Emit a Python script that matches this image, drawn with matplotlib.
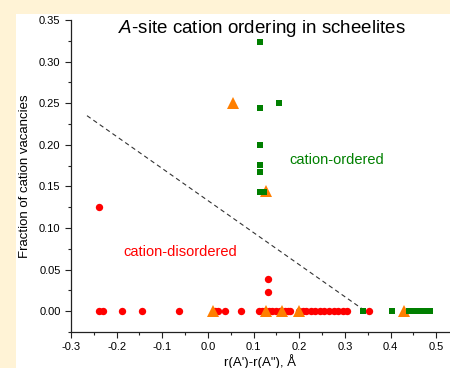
'''
A-site cation ordering in scheelites
'''

import matplotlib
matplotlib.use('Agg')
import matplotlib.pyplot as plt
from matplotlib.patches import Rectangle
from matplotlib.ticker import MultipleLocator, FormatStrFormatter

plt.rcParams['font.family'] = ['Liberation Sans', 'DejaVu Sans']
plt.rcParams['mathtext.fontset'] = 'custom'
plt.rcParams['mathtext.rm'] = 'Liberation Sans'
plt.rcParams['mathtext.it'] = 'Liberation Sans:italic'

# cation-disordered compounds (red circles)
disordered_x = [-0.238, -0.231, -0.188, -0.144, -0.064, 0.015, 0.022, 0.038,
                0.072, 0.111, 0.118, 0.125, 0.133, 0.140, 0.148, 0.158,
                0.168, 0.175, 0.180, 0.200, 0.207, 0.215, 0.225, 0.235,
                0.245, 0.255, 0.265, 0.275, 0.285, 0.295, 0.305, 0.352,
                -0.238, 0.132, 0.132]
disordered_y = [0.0] * 32 + [0.1255, 0.0385, 0.023]

# cation-ordered compounds (green squares)
ordered_x = [0.115, 0.115, 0.115, 0.115, 0.115, 0.115, 0.122, 0.155,
             0.340, 0.402, 0.440, 0.445, 0.450, 0.455, 0.460, 0.465,
             0.470, 0.475, 0.480, 0.487]
ordered_y = [0.323, 0.244, 0.200, 0.176, 0.167, 0.143, 0.143, 0.250,
             0.0, 0.0, 0.0, 0.0, 0.0, 0.0, 0.0, 0.0,
             0.0, 0.0, 0.0, 0.0]

# other compounds (orange triangles)
other_x = [0.010, 0.128, 0.163, 0.200, 0.430, 0.055, 0.128]
other_y = [0.0, 0.0, 0.0, 0.0, 0.0, 0.250, 0.144]

# dividing line
boundary_x = [-0.265, 0.345]
boundary_y = [0.235, 0.0]


def plot_scatter():
    '''
    Draw the scatter chart and save it to out.png
    '''
    fig = plt.figure(figsize=(4.5, 3.68), dpi=100, facecolor='#fff3d6')
    fig.add_artist(Rectangle((16 / 450, 0), 1, (368 - 14) / 368,
                             transform=fig.transFigure,
                             facecolor='white', edgecolor='none',
                             zorder=-10))
    ax = fig.add_axes([71 / 450, 36 / 368, 379 / 450, 312 / 368])
    ax.set_zorder(1)
    ax.set_facecolor('white')

    ax.plot(boundary_x, boundary_y, color='#333333', linestyle=(0, (4, 3)),
            linewidth=0.8)
    ax.plot(disordered_x, disordered_y, 'o', color='#ff0000',
            markersize=5.3, markeredgewidth=0, zorder=3)
    ax.plot(other_x, other_y, '^', color='#ff7f00',
            markersize=8.5, markeredgewidth=0, zorder=4)
    ax.plot(ordered_x, ordered_y, 's', color='#007f00',
            markersize=4.3, markeredgewidth=0, zorder=5)

    ax.set_xlim(-0.3, 0.53)
    ax.set_ylim(-0.025, 0.35)
    ax.xaxis.set_major_locator(MultipleLocator(0.1))
    ax.xaxis.set_minor_locator(MultipleLocator(0.05))
    ax.yaxis.set_major_locator(MultipleLocator(0.05))
    ax.yaxis.set_minor_locator(MultipleLocator(0.025))
    ax.xaxis.set_major_formatter(FormatStrFormatter('%.1f'))
    ax.yaxis.set_major_formatter(FormatStrFormatter('%.2f'))
    ax.tick_params(which='both', direction='out', labelsize=8,
                   width=0.8, color='#222222')
    ax.tick_params(which='major', length=4)
    ax.tick_params(which='minor', length=2.5)

    for side in ['top', 'right']:
        ax.spines[side].set_visible(False)
    for side in ['left', 'bottom']:
        ax.spines[side].set_linewidth(0.9)
        ax.spines[side].set_color('#222222')

    ax.set_ylabel('Fraction of cation vacancies', fontsize=9.5, labelpad=6)
    ax.set_xlabel("r(A')-r(A\"), Å", fontsize=9.5, labelpad=1)

    ax.text(0.504, 0.972, '$\\it{A}$-site cation ordering in scheelites',
            transform=ax.transAxes, ha='center', va='center', fontsize=13.5)
    ax.text(0.288, 0.256, 'cation-disordered', color='#ff0000',
            fontsize=10.5, transform=ax.transAxes, ha='center', va='center')
    ax.text(0.702, 0.551, 'cation-ordered', color='#008000', fontsize=10.5,
            transform=ax.transAxes, ha='center', va='center')

    fig.savefig('out.png', dpi=100, facecolor=fig.get_facecolor())


def run():
    '''
    Execute all the code in order to plot the graph
    '''
    plot_scatter()


run()
